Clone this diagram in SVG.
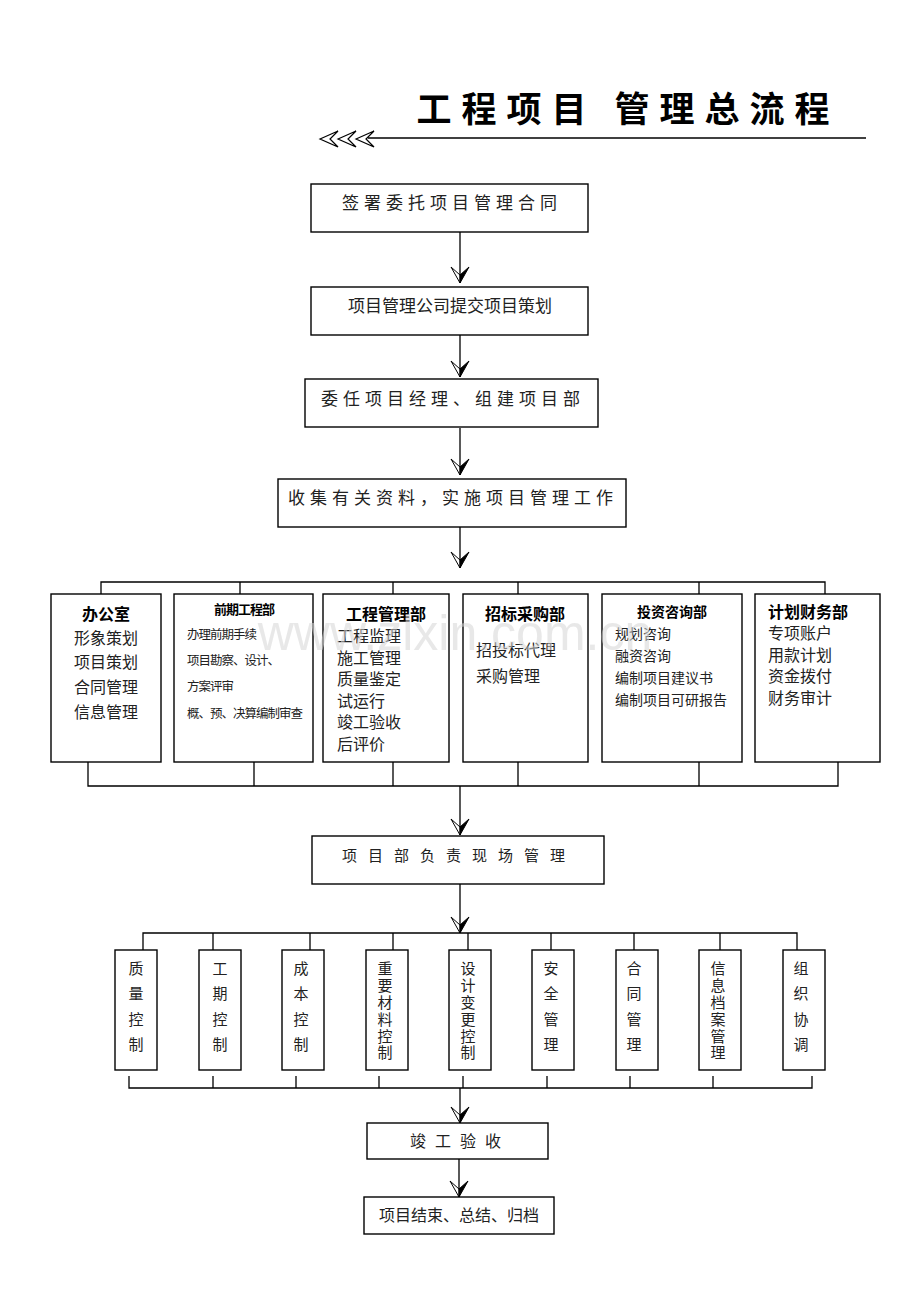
<svg xmlns="http://www.w3.org/2000/svg" xmlns:xlink="http://www.w3.org/1999/xlink" width="920" height="1302" viewBox="0 0 920 1302">
<style>
.bx{fill:#fff;stroke:#000;stroke-width:1.4}
.ln{fill:none;stroke:#000;stroke-width:1.3}
.t{font-family:"Noto Sans CJK SC","Liberation Sans",sans-serif;fill:#222}
.c{text-anchor:middle}
.h{font-weight:bold;fill:#000}
.m{font-size:17px;letter-spacing:5px}
.v{font-size:15px;text-anchor:middle}
</style>
<defs>
<g id="ah">
<polygon points="0,0 -16,9 -8,0" fill="#fff" stroke="#000" stroke-width="1"/>
<polygon points="0,0 -16,-9 -8,0" fill="#000" stroke="#000" stroke-width="1"/>
</g>
<marker id="arr" viewBox="-18 -11 20 22" refX="0" refY="0" markerWidth="20" markerHeight="22" orient="auto" markerUnits="userSpaceOnUse">
<use xlink:href="#ah"/>
</marker>
</defs>
<rect width="920" height="1302" fill="#fff"/>

<g id="title">
<text x="628" y="122" class="t c h" font-size="35" font-weight="900" letter-spacing="10" fill="#000">工程项目 管理总流程</text>
<line x1="368" y1="138" x2="866" y2="138" class="ln"/>
<g fill="#fff" stroke="#000" stroke-width="1.2">
<polygon points="320,139 338,131 330,139 338,147"/>
<polygon points="338,139 356,131 348,139 356,147"/>
<polygon points="356,139 374,131 366,139 374,147"/>
</g>
</g>

<g id="connectors">
<line x1="460" y1="232" x2="460" y2="283" class="ln" marker-end="url(#arr)"/>
<line x1="460" y1="335" x2="460" y2="377" class="ln" marker-end="url(#arr)"/>
<line x1="460" y1="428" x2="460" y2="475" class="ln" marker-end="url(#arr)"/>
<line x1="460" y1="527" x2="460" y2="568" class="ln" marker-end="url(#arr)"/>
<path d="M101,594V582H825V594M240,582V594M393,582V594M518,582V594M699,582V594" class="ln"/>
<path d="M88,762V786H838V762M254,762V786M393,762V786M518,762V786M699,762V786" class="ln"/>
<line x1="460" y1="786" x2="460" y2="835" class="ln" marker-end="url(#arr)"/>
<line x1="460" y1="884" x2="460" y2="933" class="ln" marker-end="url(#arr)"/>
<path d="M143,950V933H797V950M213,933V950M310,933V950M393,933V950M468,933V950M551,933V950M634,933V950M720,933V950" class="ln"/>
<path d="M129,1076V1088H812V1076M213,1076V1088M296,1076V1088M379,1076V1088M463,1076V1088M547,1076V1088M630,1076V1088M713,1076V1088" class="ln"/>
<line x1="460" y1="1088" x2="460" y2="1123" class="ln" marker-end="url(#arr)"/>
<line x1="459" y1="1159" x2="459" y2="1197" class="ln" marker-end="url(#arr)"/>
</g>

<g id="n1"><rect x="311" y="184" width="277" height="48" class="bx"/><text x="452" y="209" class="t c m">签署委托项目管理合同</text></g>
<g id="n2"><rect x="311" y="287" width="277" height="48" class="bx"/><text x="450" y="312" class="t c" font-size="17">项目管理公司提交项目策划</text></g>
<g id="n3"><rect x="305" y="379" width="293" height="48" class="bx"/><text x="453" y="405" class="t c m">委任项目经理、组建项目部</text></g>
<g id="n4"><rect x="278" y="479" width="348" height="48" class="bx"/><text x="453" y="504" class="t c m">收集有关资料，实施项目管理工作</text></g>

<g id="d1"><rect x="51" y="594" width="110" height="168" class="bx"/>
<text x="106" y="620" class="t c h" font-size="16">办公室</text>
<text class="t" font-size="16"><tspan x="74" y="644">形象策划</tspan><tspan x="74" y="668">项目策划</tspan><tspan x="74" y="693">合同管理</tspan><tspan x="74" y="718">信息管理</tspan></text></g>

<g id="d2"><rect x="174" y="594" width="139" height="168" class="bx"/>
<text x="244" y="614" class="t c h" font-size="13" letter-spacing="-1">前期工程部</text>
<text class="t" font-size="12.5" letter-spacing="-1"><tspan x="187" y="639">办理前期手续</tspan><tspan x="187" y="665">项目勘察、设计、</tspan><tspan x="187" y="691">方案评审</tspan><tspan x="187" y="718">概、预、决算编制审查</tspan></text></g>

<g id="d3"><rect x="323" y="594" width="126" height="168" class="bx"/>
<text x="386" y="620" class="t c h" font-size="16">工程管理部</text>
<text class="t" font-size="16"><tspan x="337" y="642">工程监理</tspan><tspan x="337" y="664">施工管理</tspan><tspan x="337" y="685">质量鉴定</tspan><tspan x="337" y="707">试运行</tspan><tspan x="337" y="728">竣工验收</tspan><tspan x="337" y="750">后评价</tspan></text></g>

<g id="d4"><rect x="463" y="594" width="125" height="168" class="bx"/>
<text x="525" y="620" class="t c h" font-size="16">招标采购部</text>
<text class="t" font-size="16"><tspan x="476" y="656">招投标代理</tspan><tspan x="476" y="682">采购管理</tspan></text></g>

<g id="d5"><rect x="602" y="594" width="140" height="168" class="bx"/>
<text x="672" y="617" class="t c h" font-size="14">投资咨询部</text>
<text class="t" font-size="14"><tspan x="615" y="639">规划咨询</tspan><tspan x="615" y="661">融资咨询</tspan><tspan x="615" y="683">编制项目建议书</tspan><tspan x="615" y="705">编制项目可研报告</tspan></text></g>

<g id="d6"><rect x="755" y="594" width="125" height="168" class="bx"/>
<text x="768" y="618" class="t h" font-size="16">计划财务部</text>
<text class="t" font-size="16"><tspan x="768" y="639">专项账户</tspan><tspan x="768" y="661">用款计划</tspan><tspan x="768" y="682">资金拨付</tspan><tspan x="768" y="704">财务审计</tspan></text></g>

<g id="watermark"><text x="455" y="650" font-family="Liberation Sans,sans-serif" font-size="50" fill="#d6d6d6" fill-opacity="0.55" text-anchor="middle">www.zlxin.com.cn</text></g>

<g id="n5"><rect x="312" y="836" width="292" height="48" class="bx"/><text x="459" y="861" class="t c" font-size="15" letter-spacing="11">项目部负责现场管理</text></g>

<g id="v1"><rect x="115" y="950" width="42" height="120" class="bx"/><text class="t v"><tspan x="136" y="974">质</tspan><tspan x="136" y="999">量</tspan><tspan x="136" y="1025">控</tspan><tspan x="136" y="1050">制</tspan></text></g>
<g id="v2"><rect x="199" y="950" width="42" height="120" class="bx"/><text class="t v"><tspan x="220" y="974">工</tspan><tspan x="220" y="999">期</tspan><tspan x="220" y="1025">控</tspan><tspan x="220" y="1050">制</tspan></text></g>
<g id="v3"><rect x="282" y="950" width="42" height="120" class="bx"/><text class="t v"><tspan x="301" y="974">成</tspan><tspan x="301" y="999">本</tspan><tspan x="301" y="1025">控</tspan><tspan x="301" y="1050">制</tspan></text></g>
<g id="v4"><rect x="366" y="950" width="42" height="120" class="bx"/><text class="t v"><tspan x="385" y="974">重</tspan><tspan x="385" y="991">要</tspan><tspan x="385" y="1008">材</tspan><tspan x="385" y="1025">料</tspan><tspan x="385" y="1042">控</tspan><tspan x="385" y="1058">制</tspan></text></g>
<g id="v5"><rect x="449" y="950" width="42" height="120" class="bx"/><text class="t v"><tspan x="468" y="974">设</tspan><tspan x="468" y="991">计</tspan><tspan x="468" y="1008">变</tspan><tspan x="468" y="1025">更</tspan><tspan x="468" y="1042">控</tspan><tspan x="468" y="1058">制</tspan></text></g>
<g id="v6"><rect x="532" y="950" width="42" height="120" class="bx"/><text class="t v"><tspan x="551" y="974">安</tspan><tspan x="551" y="999">全</tspan><tspan x="551" y="1025">管</tspan><tspan x="551" y="1050">理</tspan></text></g>
<g id="v7"><rect x="616" y="950" width="42" height="120" class="bx"/><text class="t v"><tspan x="634" y="974">合</tspan><tspan x="634" y="999">同</tspan><tspan x="634" y="1025">管</tspan><tspan x="634" y="1050">理</tspan></text></g>
<g id="v8"><rect x="699" y="950" width="42" height="120" class="bx"/><text class="t v"><tspan x="718" y="974">信</tspan><tspan x="718" y="991">息</tspan><tspan x="718" y="1008">档</tspan><tspan x="718" y="1025">案</tspan><tspan x="718" y="1042">管</tspan><tspan x="718" y="1058">理</tspan></text></g>
<g id="v9"><rect x="783" y="950" width="42" height="120" class="bx"/><text class="t v"><tspan x="801" y="974">组</tspan><tspan x="801" y="999">织</tspan><tspan x="801" y="1025">协</tspan><tspan x="801" y="1050">调</tspan></text></g>

<g id="n6"><rect x="367" y="1123" width="181" height="36" class="bx"/><text x="460" y="1147" class="t c" font-size="16" letter-spacing="9">竣工验收</text></g>
<g id="n7"><rect x="364" y="1197" width="190" height="37" class="bx"/><text x="459" y="1221" class="t c" font-size="16">项目结束、总结、归档</text></g>
</svg>
